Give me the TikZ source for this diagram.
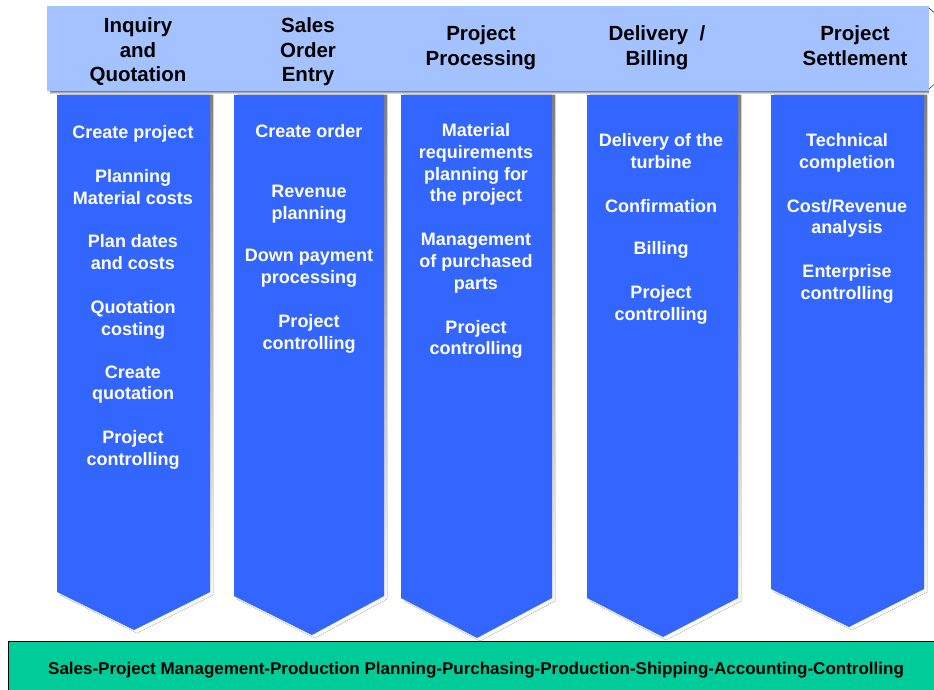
\documentclass[tikz,border=0pt]{standalone}
\usepackage{fontspec}
\setmainfont{Liberation Sans}
\definecolor{headblue}{HTML}{A4C2FF}
\definecolor{colblue}{HTML}{3366FF}
\definecolor{shade}{HTML}{B4B4B4}
\definecolor{basegreen}{HTML}{00CC99}
\tikzset{
    phase/.style={font=\bfseries\fontsize{20.5}{24.5}\selectfont, align=center, anchor=north, inner sep=0pt},
    task/.style={text=white, font=\bfseries\fontsize{18}{21.8}\selectfont, align=center, anchor=north, inner sep=0pt}
}
\begin{document}
\begin{tikzpicture}[x=1pt,y=-1pt]
    \useasboundingbox (0,0) rectangle (934,690);
    \fill[shade] (50,91) rectangle (929,94);
    \fill[headblue] (47,6) rectangle (929,91);
    \draw[shade] (929,8) -- (937,15) (929,89) -- (937,82);

    \foreach \l/\r/\s/\tx/\ty in {57/210/592/134/630, 234/384/596/312/635, 401/552/598/477/638, 587/738/598/663/637, 771/924/589/849/627}
        {\fill[shade] (\l+3,95) -- (\r+3,95) -- (\r+3,\s+3) -- (\tx+3,\ty+3) -- (\l+3,\s+3) -- cycle;
         \fill[colblue] (\l,95) -- (\r,95) -- (\r,\s) -- (\tx,\ty) -- (\l,\s) -- cycle;}

    \foreach \n/\x/\y/\t in {1/138/17.5/{Inquiry\\and\\Quotation}, 2/308/17.5/{Sales\\Order\\Entry}, 3/481/25.5/{Project\\Processing}, 4/657/25.5/{Delivery~ /\\Billing}, 5/855/25.5/{Project\\Settlement}}
        {\node[phase] (h\n) at (\x,\y) {\t};}

    \node[task] (t1) at (133,125.3) {Create project\\[22pt] Planning\\Material costs\\[22pt] Plan dates\\and costs\\[22pt] Quotation\\costing\\[21pt] Create\\quotation\\[22pt] Project\\controlling};
    \node[task] (t2) at (309,124.3) {Create order\\[38pt] Revenue\\planning\\[21pt] Down payment\\processing\\[22pt] Project\\controlling};
    \node[task] (t3) at (476,123.3) {Material\\requirements\\planning for\\the project\\[22pt] Management\\of purchased\\parts\\[22pt] Project\\controlling};
    \node[task] (t4) at (661,133.3) {Delivery of the\\turbine\\[22pt] Confirmation\\[21pt] Billing\\[22pt] Project\\controlling};
    \node[task] (t5) at (847,133.3) {Technical\\completion\\[22pt] Cost/Revenue\\analysis\\[22pt] Enterprise\\controlling};

    \draw[fill=basegreen, line width=1pt] (8,641) rectangle (940,700);
    \node[font=\bfseries\fontsize{17}{20}\selectfont] (base) at (476,670) {Sales-Project Management-Production Planning-Purchasing-Production-Shipping-Accounting-Controlling};
\end{tikzpicture}
\end{document}
